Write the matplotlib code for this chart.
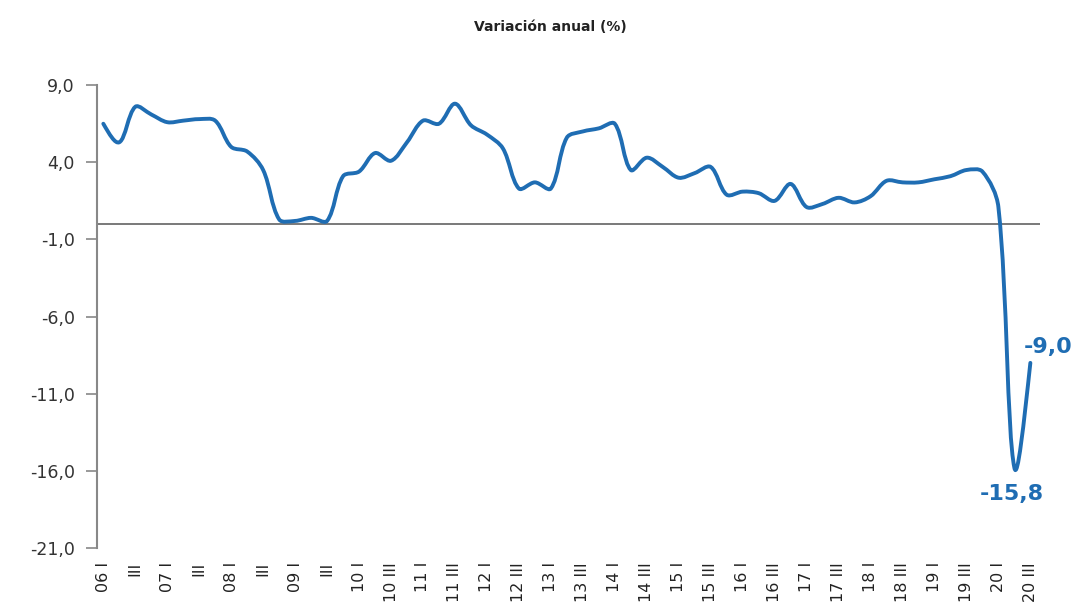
import matplotlib
matplotlib.use("Agg")
import matplotlib.pyplot as plt
from matplotlib.path import Path
from matplotlib.patches import PathPatch
import numpy as np

# ---- data ----
quarter_labels = ["06 I", "III", "07 I", "III", "08 I", "III", "09 I", "III",
                  "10 I", "10 III", "11 I", "11 III", "12 I", "12 III", "13 I", "13 III",
                  "14 I", "14 III", "15 I", "15 III", "16 I", "16 III", "17 I", "17 III",
                  "18 I", "18 III", "19 I", "19 III", "20 I", "20 III"]
values = [6.5, 5.3, 7.6, 7.1, 6.6, 6.7, 6.8, 6.7,
          5.0, 4.7, 3.5, 0.3, 0.2, 0.4, 0.2, 3.1,
          3.4, 4.6, 4.1, 5.3, 6.7, 6.5, 7.8, 6.4,
          5.8, 4.9, 2.3, 2.7, 2.3, 5.6, 6.0, 6.2,
          6.5, 3.5, 4.3, 3.7, 3.0, 3.3, 3.7, 1.9,
          2.1, 2.0, 1.5, 2.6, 1.1, 1.3, 1.7, 1.4,
          1.8, 2.8, 2.7, 2.7, 2.9, 3.1, 3.5, 3.4,
          1.1, -15.8, -9.0]
y_ticks = [9.0, 4.0, -1.0, -6.0, -11.0, -16.0, -21.0]
ann_min = "-15,8"
ann_last = "-9,0"
title = "Variación anual (%)"

blue = "#1f6db3"

fig = plt.figure(figsize=(10.77, 6.04), dpi=100)
ax = fig.add_axes([0.0900, 0.0927, 0.8756, 0.7663])
ax.set_xlim(-0.4, 58.6)
ax.set_ylim(-21, 9)

x = np.arange(len(values), dtype=float)
y = np.array(values, dtype=float)

# smoothed line: Bezier segments with chord-length weighted tangents in screen space
P = ax.transData.transform(np.column_stack([x, y]))
n = len(P)
d = np.hypot(*(P[1:] - P[:-1]).T)
s = 1.0 / 3.0
c_out = P.copy()
c_in = P.copy()
for i in range(1, n - 1):
    T = P[i + 1] - P[i - 1]
    tot = d[i - 1] + d[i]
    c_in[i] = P[i] - T * s * d[i - 1] / tot
    c_out[i] = P[i] + T * s * d[i] / tot
c_out[0] = P[0] + (c_in[1] - P[0]) * 0.5
c_in[-1] = P[-1] + (c_out[-2] - P[-1]) * 0.5
verts_disp = [P[0]]
codes = [Path.MOVETO]
for i in range(n - 1):
    verts_disp += [c_out[i], c_in[i + 1], P[i + 1]]
    codes += [Path.CURVE4] * 3
verts = ax.transData.inverted().transform(np.array(verts_disp))
ax.add_patch(PathPatch(Path(verts, codes), facecolor="none", edgecolor=blue,
                       lw=2.8, capstyle="round", joinstyle="round", zorder=3))

ax.axhline(0, color="#555555", lw=1.1, zorder=2)

ax.set_yticks(y_ticks)
ax.set_yticklabels([f"{v:.1f}".replace(".", ",") for v in y_ticks],
                   fontsize=12.5, color="#333333", family="DejaVu Sans")
ax.set_xticks(np.arange(0, len(values), 2))
ax.set_xticklabels(quarter_labels, rotation=90, va="top", ha="center",
                   fontsize=11.5, color="#222222", family="DejaVu Sans")
ax.tick_params(axis="x", length=0, pad=10)
ax.tick_params(axis="y", length=8, width=1.2, color="#888888", pad=8, direction="out")

for sp in ["top", "right", "bottom"]:
    ax.spines[sp].set_visible(False)
ax.spines["left"].set_color("#888888")
ax.spines["left"].set_linewidth(1.5)

i_min = int(np.argmin(y))
ax.annotate(ann_min, (x[i_min], y[i_min]), xytext=(-2, -12), textcoords="offset points",
            ha="center", va="top", fontsize=16, fontweight="bold", color=blue,
            family="DejaVu Sans")
ax.annotate(ann_last, (x[-1], y[-1]), xytext=(13, 4), textcoords="offset points",
            ha="center", va="bottom", fontsize=16, fontweight="bold", color=blue,
            family="DejaVu Sans")

fig.text(0.511, 0.956, title, ha="center", va="center", fontsize=10,
         fontweight="bold", color="#222222", family="DejaVu Sans")

fig.savefig("out.png", dpi=100)
